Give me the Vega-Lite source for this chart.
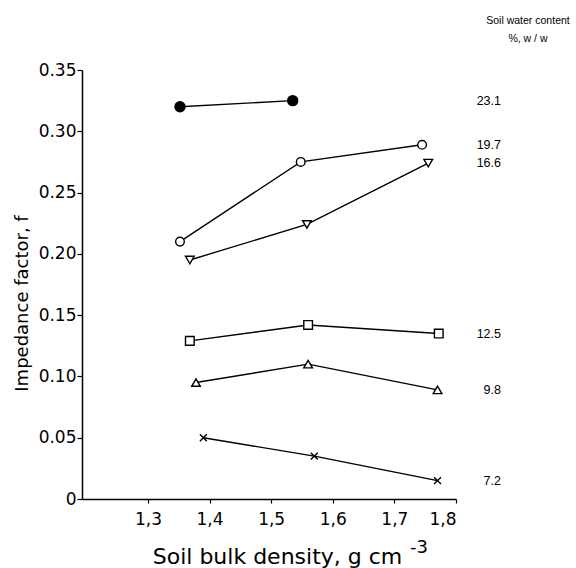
{
  "$schema": "https://vega.github.io/schema/vega-lite/v6.json",
  "autosize": {"type": "none"},
  "width": 374,
  "height": 429,
  "padding": {"left": 82, "top": 70, "right": 120, "bottom": 69},
  "background": "white",
  "config": {
    "view": {"stroke": null},
    "font": "DejaVu Sans",
    "axis": {"grid": false, "domainColor": "black", "tickColor": "black", "labelColor": "black", "titleColor": "black", "domainWidth": 1.5, "tickWidth": 1.2, "labelFont": "DejaVu Sans", "titleFont": "DejaVu Sans", "labelFontSize": 17, "titleFontSize": 18, "titleFontWeight": "normal"}
  },
  "data": {
    "values": [
      {"water": "23.1", "density": 1.352, "f": 0.320},
      {"water": "23.1", "density": 1.535, "f": 0.325},
      {"water": "19.7", "density": 1.352, "f": 0.210},
      {"water": "19.7", "density": 1.548, "f": 0.275},
      {"water": "19.7", "density": 1.745, "f": 0.289},
      {"water": "16.6", "density": 1.368, "f": 0.195},
      {"water": "16.6", "density": 1.558, "f": 0.224},
      {"water": "16.6", "density": 1.755, "f": 0.274},
      {"water": "12.5", "density": 1.368, "f": 0.129},
      {"water": "12.5", "density": 1.560, "f": 0.142},
      {"water": "12.5", "density": 1.772, "f": 0.135},
      {"water": "9.8", "density": 1.378, "f": 0.095},
      {"water": "9.8", "density": 1.560, "f": 0.110},
      {"water": "9.8", "density": 1.770, "f": 0.089},
      {"water": "7.2", "density": 1.390, "f": 0.050},
      {"water": "7.2", "density": 1.570, "f": 0.035},
      {"water": "7.2", "density": 1.770, "f": 0.015}
    ]
  },
  "layer": [
    {
      "mark": {"type": "line", "color": "black", "strokeWidth": 1.4},
      "encoding": {
        "x": {"field": "density", "type": "quantitative", "scale": {"domain": [1.193, 1.8], "nice": false, "zero": false},
          "axis": {"values": [1.3, 1.4, 1.5, 1.6, 1.7, 1.8], "labelExpr": "replace(format(datum.value, '.1f'), '.', ',')", "tickSize": 4, "labelPadding": 8,
            "title": "Soil bulk density, g cm", "titleFontSize": 22, "titleX": 195, "titleY": 64, "titleAlign": "center", "titleBaseline": "alphabetic"}},
        "y": {"field": "f", "type": "quantitative", "scale": {"domain": [0, 0.35], "nice": false},
          "axis": {"values": [0, 0.05, 0.1, 0.15, 0.2, 0.25, 0.3, 0.35], "labelExpr": "datum.value == 0 ? '0' : format(datum.value, '.2f')", "tickSize": 5, "labelPadding": 1,
            "title": "Impedance factor, f", "titleX": -60, "titleY": 233, "titleAngle": -90, "titleAlign": "center", "titleBaseline": "middle"}},
        "detail": {"field": "water"}
      }
    },
    {
      "mark": {"type": "point", "filled": true, "stroke": "black", "strokeWidth": 1.4, "opacity": 1},
      "encoding": {
        "x": {"field": "density", "type": "quantitative"},
        "y": {"field": "f", "type": "quantitative"},
        "shape": {"field": "water", "type": "nominal", "legend": null,
          "scale": {"domain": ["23.1", "19.7", "16.6", "12.5", "9.8", "7.2"],
            "range": ["circle", "circle", "triangle-down", "square", "triangle-up", "M-0.8,-0.8L0.8,0.8M-0.8,0.8L0.8,-0.8"]}},
        "fill": {"condition": {"test": "datum.water == '23.1'", "value": "black"}, "value": "white"},
        "size": {"condition": {"test": "datum.water == '23.1'", "value": 100}, "value": 75}
      }
    },
    {
      "mark": {"type": "text", "align": "right", "baseline": "middle", "dx": 45, "fontSize": 12.5, "font": "Liberation Sans", "color": "black"},
      "encoding": {
        "x": {"datum": 1.8},
        "y": {"field": "f", "aggregate": {"argmax": "density"}, "type": "quantitative"},
        "text": {"field": "water", "type": "nominal"}
      }
    },
    {
      "data": {"values": [{}]},
      "mark": {"type": "text", "text": ["Soil water content", "%, w / w"], "align": "center", "baseline": "alphabetic", "dx": 72, "dy": -46, "lineHeight": 18, "fontSize": 10.5, "font": "Liberation Sans", "color": "black"},
      "encoding": {
        "x": {"datum": 1.8},
        "y": {"datum": 0.35}
      }
    },
    {
      "data": {"values": [{}]},
      "mark": {"type": "text", "text": "-3", "align": "left", "baseline": "alphabetic", "dx": -46, "dy": 54, "fontSize": 18, "font": "DejaVu Sans", "color": "black"},
      "encoding": {
        "x": {"datum": 1.8},
        "y": {"datum": 0}
      }
    }
  ]
}
